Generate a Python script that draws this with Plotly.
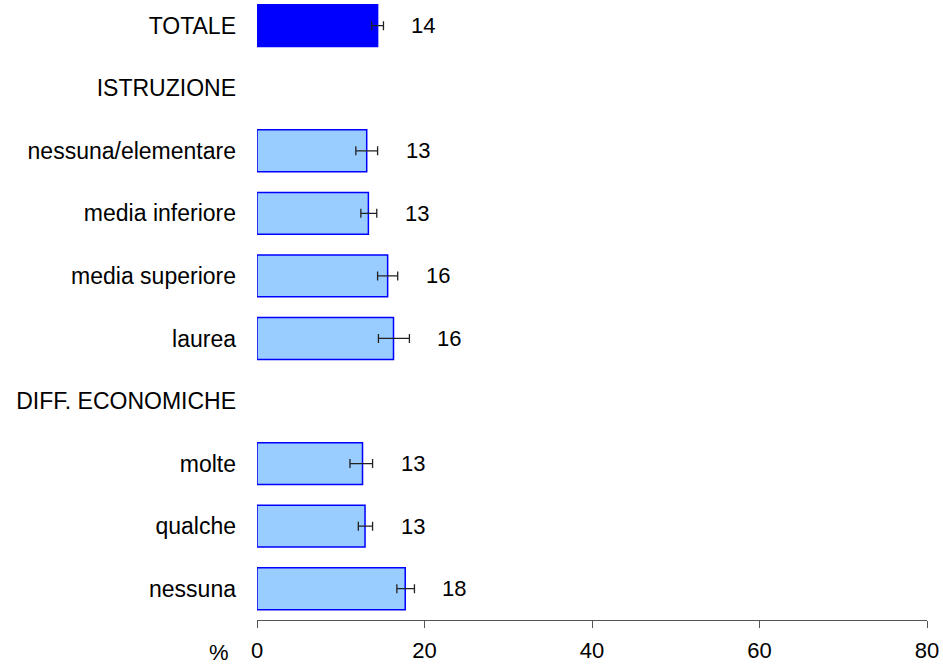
import plotly.graph_objects as go

categories = ["TOTALE", "ISTRUZIONE", "nessuna/elementare", "media inferiore",
              "media superiore", "laurea", "DIFF. ECONOMICHE", "molte",
              "qualche", "nessuna"]
values = [14.4, None, 13.1, 13.3, 15.6, 16.3, None, 12.6, 12.9, 17.7]
ci_low = [13.7, None, 11.8, 12.4, 14.4, 14.5, None, 11.1, 12.1, 16.7]
ci_high = [15.1, None, 14.4, 14.3, 16.8, 18.2, None, 13.8, 13.8, 18.8]
value_labels = ["14", "", "13", "13", "16", "16", "", "13", "13", "18"]
x_ticks = [0, 20, 40, 60, 80]

err_plus = [h - v if v is not None else None for v, h in zip(values, ci_high)]
err_minus = [v - l if v is not None else None for v, l in zip(values, ci_low)]
bar_colors = ["#0000FF" if c == "TOTALE" else "#99CCFF" for c in categories]

fig = go.Figure()
fig.add_trace(go.Bar(
    x=values, y=categories, orientation="h", width=0.67,
    marker=dict(color=bar_colors, line=dict(color="#0000FF", width=1.5)),
    error_x=dict(type="data", array=err_plus, arrayminus=err_minus,
                 color="#222222", thickness=1.3, width=4.5),
    hoverinfo="x+y",
))

# value labels to the right of the error bars
for cat, hi, lab in zip(categories, ci_high, value_labels):
    if lab:
        fig.add_annotation(x=hi, y=cat, text=lab, showarrow=False,
                           xanchor="center", xshift=40,
                           font=dict(size=22, color="black"))

fig.add_annotation(x=0, xref="x", y=0, yref="paper", text="%",
                   showarrow=False, xanchor="center", yanchor="middle",
                   xshift=-38, yshift=-32, font=dict(size=22, color="black"))

fig.update_xaxes(range=[0, 80], tickvals=x_ticks, showline=True,
                 linecolor="#555555", linewidth=1, ticks="outside",
                 ticklen=7, tickcolor="#555555", showgrid=False,
                 zeroline=False, ticklabelstandoff=4, automargin=False,
                 tickfont=dict(size=22, color="black"))
fig.update_yaxes(categoryorder="array", categoryarray=categories,
                 range=[9.5, -0.41], showline=False, showgrid=False,
                 zeroline=False, ticks="", ticklabelstandoff=20,
                 automargin=False,
                 tickfont=dict(size=23, color="black"))
fig.update_layout(
    width=943, height=664,
    margin=dict(l=257, r=16, t=0, b=44),
    font=dict(family="Liberation Sans, Arial, sans-serif"),
    paper_bgcolor="white", plot_bgcolor="white",
    showlegend=False,
)

fig.write_html("out.html", config={"displayModeBar": False},
               post_script="document.body.style.margin='0';")
